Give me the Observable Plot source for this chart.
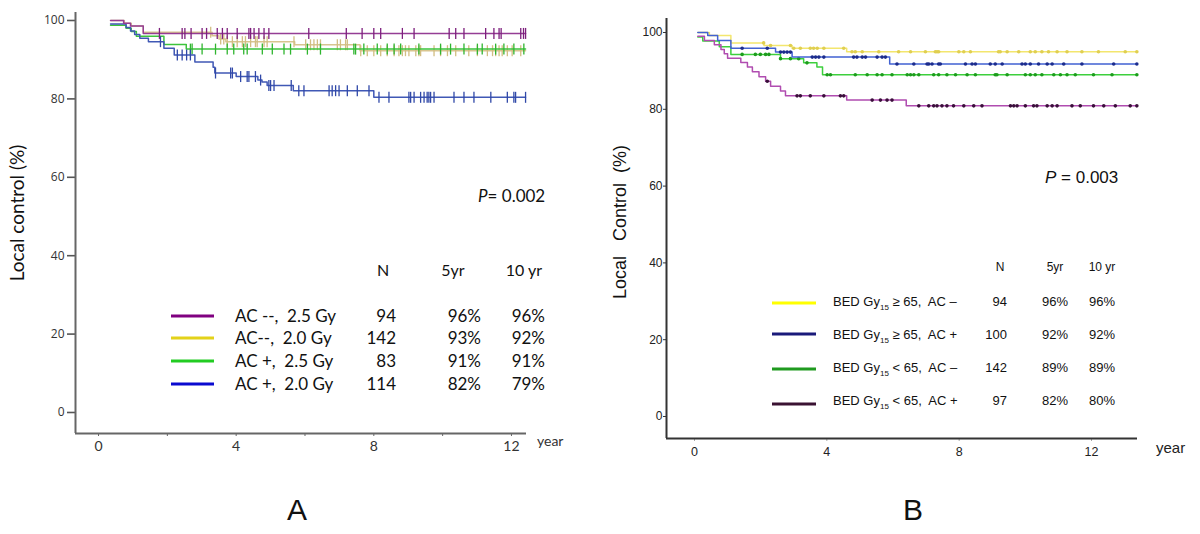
<!DOCTYPE html>
<html>
<head>
<meta charset="utf-8">
<script src="https://cdn.jsdelivr.net/npm/d3@7"></script>
<script src="https://cdn.jsdelivr.net/npm/@observablehq/plot@0.6"></script>
<style>
  html, body { margin: 0; padding: 0; background: #fff; }
  #root { position: relative; width: 1200px; height: 534px; overflow: hidden; background: #fff; }
  .abs { position: absolute; white-space: pre; line-height: 1; }
  .fa { font-family: Lato, "Open Sans", sans-serif; color: #111; }
  .fb { font-family: "Liberation Sans", Arial, sans-serif; color: #111; }
  .c { transform: translate(-50%, -50%); }
  .l { transform: translate(0, -50%); }
  .r { transform: translate(-100%, -50%); }
  .sw { position: absolute; height: 3px; transform: translateY(-50%); }
</style>
</head>
<body>
<div id="root"></div>
<script>
// ---------------- Panel A data ----------------
const seriesA = ["AC --,  2.5 Gy", "AC--,  2.0 Gy", "AC +,  2.5 Gy", "AC +,  2.0 Gy"];
const nA = ["94", "142", "83", "114"];
const fiveYrA = ["96%", "93%", "91%", "82%"];
const tenYrA = ["96%", "92%", "91%", "79%"];
const pValueA = "0.002";
const xTicksA = [0, 4, 8, 12];
const xMinorTicksA = [2, 6, 10];
const yTicksA = [0, 20, 40, 60, 80, 100];

// Kaplan-Meier steps [year, %]
const kmA_ac0_25 = [[0.35,100],[0.73,99.3],[0.93,98.6],[1.3,96.7],[12.41,96.7]];
const kmA_ac0_20 = [[0.35,100],[0.75,99.3],[0.95,98.6],[1.3,97.0],[3.3,96.1],[3.5,95.3],[3.7,94.6],[5.7,93.8],[7.6,92.3],[12.41,92.3]];
const kmA_ac1_25 = [[0.35,98.8],[0.8,98.0],[0.95,97.2],[1.1,96.0],[1.9,93.9],[2.55,92.7],[12.41,92.7]];
const kmA_ac1_20 = [[0.35,99.1],[0.8,98.2],[0.93,97.3],[1.05,96.4],[1.2,95.5],[1.45,94.6],[1.9,92.9],[2.2,91.2],[2.8,89.4],[3.33,88.1],[3.38,86.6],[4.0,85.7],[4.63,84.8],[4.75,84.3],[4.9,83.4],[5.66,82.1],[8.0,80.4],[12.41,80.4]];

// censored times (years)
const censA_ac0_25 = [1.77,2.43,2.51,2.69,3.01,3.14,3.45,3.6,3.74,4.03,4.37,4.42,4.52,4.66,4.81,4.95,6.11,7.2,7.66,8.0,8.2,8.83,9.17,10.19,10.38,10.62,11.25,11.49,11.64,11.7,12.27,12.35,12.41];
const censA_ac0_20 = [3.26,3.55,3.64,3.74,3.89,4.03,4.18,4.27,4.42,4.56,4.61,4.81,4.9,5.68,6.02,6.16,6.26,6.36,6.45,6.94,7.03,7.18,7.23,7.62,7.81,8.0,8.2,8.39,8.59,8.73,8.83,8.92,9.02,9.22,9.31,9.36,9.75,9.94,10.14,10.38,10.76,11.01,11.3,11.45,11.54,11.64,11.73,11.88,12.02,12.27];
const censA_ac1_25 = [2.67,2.72,3.01,3.4,3.74,3.93,4.22,4.32,4.76,5.05,5.39,5.58,6.07,6.45,7.42,7.47,7.71,8.1,8.39,8.59,8.78,9.31,9.94,10.23,10.62,11.01,11.15,11.54,11.78,12.07,12.36];
const censA_ac1_20 = [1.8,2.29,2.43,2.56,2.67,3.4,3.84,3.89,4.13,4.32,4.37,4.56,4.71,4.95,5.0,5.1,5.6,5.82,5.97,6.7,6.79,6.89,6.99,7.23,7.52,7.86,8.15,8.44,9.02,9.07,9.17,9.36,9.46,9.55,9.6,9.65,9.75,10.33,10.62,10.91,11.4,11.88,12.07,12.12,12.41];

// ---------------- Panel B data ----------------
const seriesB = ["≥ 65,  AC –", "≥ 65,  AC +", "< 65,  AC –", "< 65,  AC +"];
const nB = ["94", "100", "142", "97"];
const fiveYrB = ["96%", "92%", "89%", "82%"];
const tenYrB = ["96%", "92%", "89%", "80%"];
const pValueB = "0.003";
const xTicksB = [0, 4, 8, 12];
const yTicksB = [0, 20, 40, 60, 80, 100];

const kmB_hi_acm = [[0.1,100],[0.45,99.2],[1.1,97.3],[2.1,96.6],[2.95,95.9],[4.6,95.0],[13.38,95.0]];
const kmB_hi_acp = [[0.1,100],[0.4,99.2],[0.7,97.9],[1.1,95.9],[2.45,94.9],[2.95,93.6],[5.9,91.8],[13.38,91.8]];
const kmB_lo_acm = [[0.1,98.8],[0.25,97.8],[0.75,96.3],[1.1,94.3],[2.6,93.2],[3.3,92.1],[3.7,91.0],[3.87,89.0],[13.38,89.0]];
const kmB_lo_acp = [[0.1,99.0],[0.3,97.9],[0.6,96.8],[0.8,95.6],[0.9,94.5],[1.0,93.3],[1.4,92.2],[1.6,91.0],[1.75,89.8],[1.95,88.5],[2.15,87.3],[2.3,86.0],[2.6,84.8],[2.75,83.5],[4.6,82.4],[6.4,80.9],[13.38,80.9]];

const censB_hi_acm = [2.09,2.3,2.9,3.0,3.2,3.5,3.6,3.71,3.91,4.51,4.76,4.86,5.07,5.57,6.17,6.53,6.98,7.28,7.33,7.38,7.99,8.14,8.34,9.19,9.24,9.45,9.8,10.15,10.3,10.5,10.7,10.96,11.26,11.71,12.21,13.02,13.37];
const censB_hi_acp = [1.44,2.2,2.6,2.7,2.8,2.9,3.56,3.66,3.76,3.91,4.81,4.91,5.07,5.17,5.52,5.67,5.77,6.12,6.63,7.03,7.08,7.18,7.38,7.43,8.19,8.39,8.49,8.94,9.09,9.3,9.9,10.0,10.15,10.4,10.66,10.81,11.16,11.71,12.67,13.37];
const censB_lo_acm = [1.44,1.84,1.99,2.15,2.25,2.6,2.9,3.15,3.4,4.01,4.11,4.86,5.22,5.52,5.67,5.97,6.43,6.53,6.63,6.78,7.23,7.38,7.63,7.89,8.24,8.49,9.09,9.14,9.45,10.0,10.15,10.3,10.5,10.86,11.06,11.26,11.51,12.06,12.62,13.37];
const censB_lo_acp = [2.2,3.1,3.2,3.5,3.91,4.41,4.51,5.37,5.62,5.82,5.97,6.78,7.08,7.23,7.33,7.48,7.63,7.83,8.14,8.44,8.69,9.55,9.65,9.75,10.0,10.25,10.35,10.66,10.81,10.96,11.41,11.66,12.06,12.37,12.72,13.17,13.37];

// ---------------- helpers ----------------
function valueAt(km, t) {
  let v = km[0][1];
  for (const [tt, vv] of km) if (tt <= t) v = vv;
  return v;
}
const vbar = { draw(ctx, size) { const r = Math.sqrt(size / Math.PI); ctx.moveTo(0, -r); ctx.lineTo(0, r); } };

const root = document.getElementById("root");
function addText(html, cls, x, y, style = "") {
  const d = document.createElement("div");
  d.className = "abs " + cls;
  d.style.cssText = `left:${x}px;top:${y}px;${style}`;
  d.innerHTML = html;
  root.appendChild(d);
  return d;
}
function addSwatch(color, x1, x2, y) {
  const d = document.createElement("div");
  d.className = "sw";
  d.style.cssText = `left:${x1}px;top:${y}px;width:${x2 - x1}px;background:${color};`;
  root.appendChild(d);
}

// ---------------- Panel A plot ----------------
const kmA = [kmA_ac0_25, kmA_ac0_20, kmA_ac1_25, kmA_ac1_20];
const censA = [censA_ac0_25, censA_ac0_20, censA_ac1_25, censA_ac1_20];
const lineColA = ["#953d95", "#d8c590", "#3cc43c", "#4058b5"];
const tickColA = ["#7d1f7d", "#d2bd82", "#2fb52f", "#3048a8"];
const legColA = ["#800080", "#e3d21a", "#22cc22", "#0a0ad0"];
const drawOrderA = [1, 2, 3, 0];
const xDomA = [-0.669, 12.437];
const yDomA = [-5.36, 102.04];

const marksA = [
  Plot.axisY(yTicksA, {tickSize: 8, tickPadding: 3, label: null, fontSize: 12, fontFamily: "Open Sans", fill: "#333", stroke: "#555", strokeWidth: 1.6}),
  Plot.axisX(xTicksA, {tickSize: 3, tickPadding: 5, label: null, fontSize: 14, fontFamily: "Lato", fill: "#333", stroke: "#666"}),
  Plot.axisX(xMinorTicksA, {tickSize: 3, tickFormat: () => "", label: null, stroke: "#666"}),
  Plot.ruleX([xDomA[0]], {stroke: "#666", strokeWidth: 2}),
  Plot.ruleY([yDomA[0]], {stroke: "#666", strokeWidth: 2})
];
for (const i of drawOrderA) {
  const rows = kmA[i].map(([t, v]) => ({t, v}));
  marksA.push(Plot.line(rows, {x: "t", y: "v", curve: "step-after", stroke: lineColA[i], strokeWidth: 1.5}));
  const cens = censA[i].map(t => ({t, v: valueAt(kmA[i], t)}));
  marksA.push(Plot.dot(cens, {x: "t", y: "v", symbol: vbar, r: 5.5, stroke: tickColA[i], fill: "none", strokeWidth: 1.3}));
}
const plotA = Plot.plot({
  width: 590, height: 470,
  marginLeft: 75, marginRight: 64, marginTop: 12, marginBottom: 37,
  x: {domain: xDomA, label: null},
  y: {domain: yDomA, label: null},
  style: {background: "transparent", overflow: "visible"},
  marks: marksA
});
plotA.style.position = "absolute";
plotA.style.left = "0px";
plotA.style.top = "0px";
root.appendChild(plotA);

// ---------------- Panel B plot ----------------
const kmB = [kmB_hi_acm, kmB_hi_acp, kmB_lo_acm, kmB_lo_acp];
const censB = [censB_hi_acm, censB_hi_acp, censB_lo_acm, censB_lo_acp];
const lineColB = ["#f3e66e", "#4262d2", "#3dcf3d", "#b04cb0"];
const dotColB = ["#e0cf50", "#1c2c8c", "#1c9c1c", "#3a0e3a"];
const legColB = ["#ffff00", "#1a1a7a", "#1f9a1f", "#3a1232"];
const drawOrderB = [0, 2, 1, 3];
const xDomB = [-0.846, 13.39];
const yDomB = [-5.73, 103.65];

const marksB = [
  Plot.axisY(yTicksB, {tickSize: 3, tickPadding: 1, label: null, fontSize: 12, fontFamily: "Liberation Sans", fill: "#222", stroke: "#333"}),
  Plot.axisX(xTicksB, {tickSize: 3, tickPadding: 6, label: null, fontSize: 12.5, fontFamily: "Liberation Sans", fill: "#222", stroke: "#aaa"}),
  Plot.ruleX([xDomB[0]], {stroke: "#333", strokeWidth: 2}),
  Plot.ruleY([yDomB[0]], {stroke: "#333", strokeWidth: 2})
];
for (const i of drawOrderB) {
  const rows = kmB[i].map(([t, v]) => ({t, v}));
  marksB.push(Plot.line(rows, {x: "t", y: "v", curve: "step-after", stroke: lineColB[i], strokeWidth: 1.5}));
  const cens = censB[i].map(t => ({t, v: valueAt(kmB[i], t)}));
  marksB.push(Plot.dot(cens, {x: "t", y: "v", r: 1.8, fill: dotColB[i], stroke: "none"}));
}
const plotB = Plot.plot({
  width: 610, height: 470,
  marginLeft: 76, marginRight: 63, marginTop: 18, marginBottom: 32,
  x: {domain: xDomB, label: null},
  y: {domain: yDomB, label: null},
  style: {background: "transparent", overflow: "visible"},
  marks: marksB
});
plotB.style.position = "absolute";
plotB.style.left = "590px";
plotB.style.top = "0px";
root.appendChild(plotB);

// ---------------- Panel A texts ----------------
addText("Local control (%)", "fa c", 16, 213, "font-size:19px;transform:translate(-50%,-50%) rotate(-90deg);");
addText(`<i>P</i>= ${pValueA}`, "fa l", 478, 195, "font-size:17px;");
addText("year", "fa l", 537, 441, "font-size:14px;color:#333;");
addText("A", "fb c", 297, 510, "font-size:30px;");
addText("N", "fa c", 383, 270, "font-size:16px;");
addText("5yr", "fa c", 453, 270, "font-size:16px;");
addText("10 yr", "fa c", 524, 270, "font-size:16px;");
const rowYA = [315, 337, 360, 383];
seriesA.forEach((s, i) => {
  addSwatch(legColA[i], 171, 214, rowYA[i] + 1);
  addText(s, "fa l", 235, rowYA[i], "font-size:17px;");
  addText(nA[i], "fa r", 396, rowYA[i], "font-size:17px;");
  addText(fiveYrA[i], "fa r", 481, rowYA[i], "font-size:17px;");
  addText(tenYrA[i], "fa r", 545, rowYA[i], "font-size:17px;");
});

// ---------------- Panel B texts ----------------
addText("Local   Control  (%)", "fb c", 620, 222, "font-size:18px;transform:translate(-50%,-50%) rotate(-90deg);");
addText(`<i>P</i> = ${pValueB}`, "fb l", 1045, 177, "font-size:17px;");
addText("year", "fb l", 1156, 447, "font-size:15px;color:#222;");
addText("B", "fb c", 913, 510, "font-size:30px;");
addText("N", "fb c", 1000, 267, "font-size:12px;");
addText("5yr", "fb c", 1055, 267, "font-size:12px;");
addText("10 yr", "fb c", 1102, 267, "font-size:12px;");
const rowYB = [301, 334, 367, 400];
const swYB = [303, 334, 369, 404];
seriesB.forEach((s, i) => {
  addSwatch(legColB[i], 772, 816, swYB[i]);
  addText(`BED Gy<span style="font-size:8px;position:relative;top:4px;">15</span> ${s}`, "fb l", 833, rowYB[i], "font-size:13px;");
  addText(nB[i], "fb r", 1007, rowYB[i], "font-size:13px;");
  addText(fiveYrB[i], "fb c", 1055, rowYB[i], "font-size:13px;");
  addText(tenYrB[i], "fb c", 1102, rowYB[i], "font-size:13px;");
});
</script>
</body>
</html>
